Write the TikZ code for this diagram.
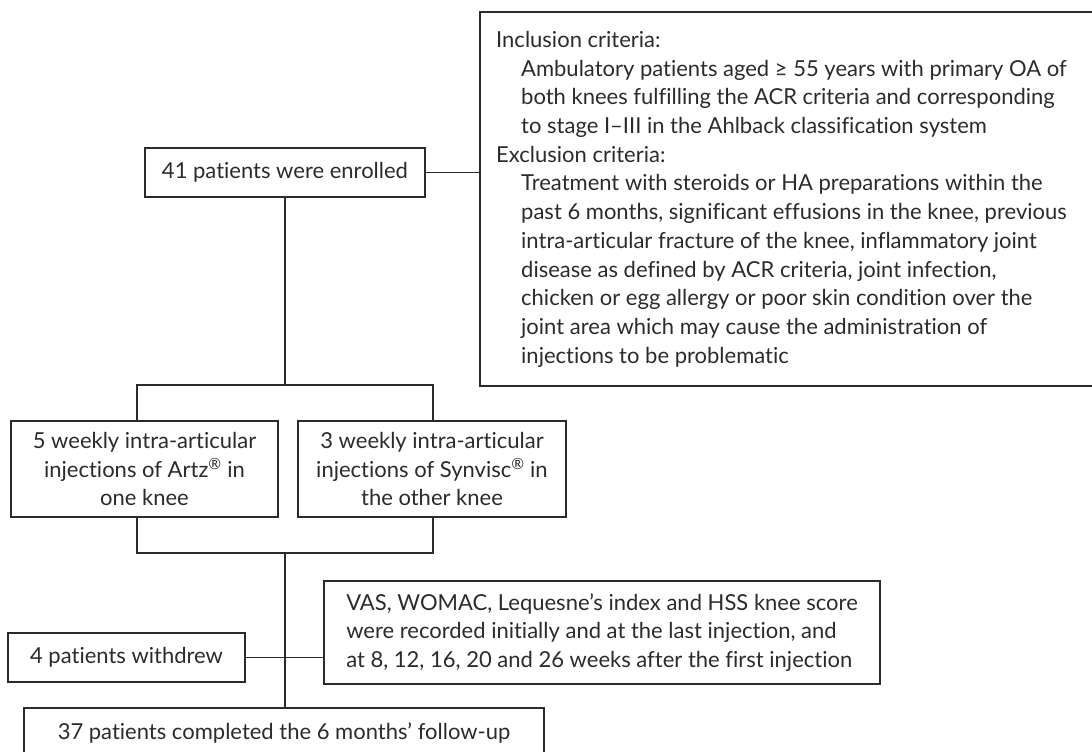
\documentclass[tikz,border=0pt]{standalone}
\usepackage{fontspec}
\setmainfont{Lato}[Ligatures=NoCommon]
\definecolor{ink}{HTML}{2B2B2B}
\tikzset{
  box/.style={draw=ink, line width=1.2pt, inner sep=0pt, align=center, text=ink,
    font=\fontsize{22}{28.5}\selectfont},
  link/.style={draw=ink, line width=1.2pt},
}
\begin{document}
\begin{tikzpicture}[x=1pt,y=-1pt]
\useasboundingbox (0,0) rectangle (1092,752);
\clip (0,0) rectangle (1092,752);
% boxes
\node[box, minimum width=620, minimum height=374] (crit) at (790,199) {};
\node[anchor=north west, inner sep=0pt, align=left, text=ink,
      font=\fontsize{22}{28.7}\selectfont] (crittext) at (496,31) {%
Inclusion criteria:\\
\hspace*{25pt}Ambulatory patients aged ≥ 55 years with primary OA of\\
\hspace*{25pt}both knees fulfilling the ACR criteria and corresponding\\
\hspace*{25pt}to stage I–III in the Ahlback classification system\\
Exclusion criteria:\\
\hspace*{25pt}Treatment with steroids or HA preparations within the\\
\hspace*{25pt}past 6 months, significant effusions in the knee, previous\\
\hspace*{25pt}intra-articular fracture of the knee, inflammatory joint\\
\hspace*{25pt}disease as defined by ACR criteria, joint infection,\\
\hspace*{25pt}chicken or egg allergy or poor skin condition over the\\
\hspace*{25pt}joint area which may cause the administration of\\
\hspace*{25pt}injections to be problematic};
\node[box, minimum width=280, minimum height=49] (enrolled) at (285,172.5) {41 patients were enrolled};
\node[box, minimum width=267, minimum height=96] (artz) at (144.5,469)
  {5 weekly intra-articular\\injections of Artz\textsuperscript{®} in\\one knee};
\node[box, minimum width=268, minimum height=96] (syn) at (432,469)
  {3 weekly intra-articular\\injections of Synvisc\textsuperscript{®} in\\the other knee};
\node[box, minimum width=237, minimum height=49] (withdrew) at (126.5,657.5) {4 patients withdrew};
\node[box, minimum width=556, minimum height=103, align=left] (vas) at (602,632.5)
  {VAS, WOMAC, Lequesne’s index and HSS knee score\\were recorded initially and at the last injection, and\\at 8, 12, 16, 20 and 26 weeks after the first injection};
\node[box, minimum width=520, minimum height=50] (final) at (284,733) {37 patients completed the 6 months’ follow-up};
% connectors
\coordinate (tl) at (137,385);
\coordinate (tr) at (433,385);
\coordinate (bl) at (137,553);
\coordinate (br) at (433,553);
\coordinate (bm) at (285,553);
\draw[link] (enrolled.east) -- (enrolled.east -| crit.west);
\draw[link] (enrolled.south) -- (enrolled.south |- tl);
\draw[link] (tl |- artz.north) -- (tl) -- (tr) -- (tr |- syn.north);
\draw[link] (bl |- artz.south) -- (bl) -- (br) -- (br |- syn.south);
\draw[link] (bm) -- (bm |- final.north);
\draw[link] (withdrew.east) -- (withdrew.east -| vas.west);
\end{tikzpicture}
\end{document}
